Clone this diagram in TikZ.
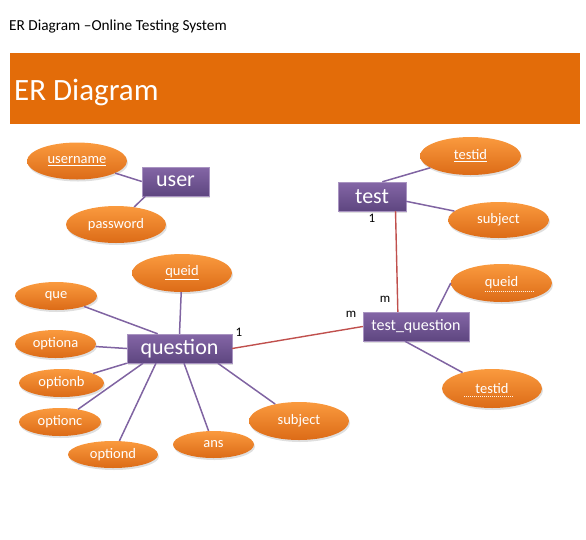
\documentclass[tikz,border=0pt]{standalone}
\usepackage{fontspec}
\setmainfont{Carlito}
\usepackage{tikz}
\usetikzlibrary{shapes.geometric,shadows}
\definecolor{banner}{HTML}{E36C09}
\definecolor{attrtop}{HTML}{FA9A3E}
\definecolor{attrbot}{HTML}{DC6B17}
\definecolor{enttop}{HTML}{8466A6}
\definecolor{entbot}{HTML}{5E4680}
\definecolor{linkcol}{HTML}{8064A2}
\definecolor{relcol}{HTML}{C0504D}

\tikzset{
 attr/.style={ellipse,inner sep=0pt,minimum height=38,top color=attrtop,bottom color=attrbot,
   text=white,font=\fontsize{14.5}{16}\selectfont,
   drop shadow={opacity=0.25,shadow xshift=1pt,shadow yshift=-2pt}},
 ent/.style={rectangle,inner sep=0pt,minimum height=29,top color=enttop,bottom color=entbot,
   draw=enttop!70!white,text=white,font=\fontsize{22}{24}\selectfont,
   drop shadow={opacity=0.25,shadow xshift=1pt,shadow yshift=-2pt}},
 link/.style={linkcol,line width=1.5pt},
 rel/.style={relcol,line width=1.4pt},
 card/.style={font=\fontsize{13}{15}\selectfont},
 keyline/.style={white!85!attrtop,dash pattern=on 1pt off 1pt,line width=0.7pt}
}

\begin{document}
\begin{tikzpicture}[x=1pt,y=-1pt]
 \useasboundingbox (0,0) rectangle (586,539);
 % heading
 \node[anchor=base west,font=\fontsize{15.3}{18}\selectfont,inner sep=0pt] (head) at (9,30) {ER Diagram –Online Testing System};
 \fill[banner] (10,53) rectangle (580,124);
 \node[anchor=base west,text=white,font=\fontsize{31}{34}\selectfont,inner sep=0pt] (title) at (14,100) {ER Diagram};

 % entities
 \node[ent,minimum width=67] (user) at (175.5,181.5) {user};
 \node[ent,minimum width=68] (test) at (372,196.5) {test};
 \node[ent,minimum width=105] (question) at (179.5,348.5) {question};
 \node[ent,minimum width=106,font=\fontsize{16}{18}\selectfont] (tq) at (416,326.5) {test\_question};

 % attributes of user
 \node[attr,minimum width=100,minimum height=37] (username) at (77,161) {\underline{username}};
 \node[attr,minimum width=100,minimum height=37] (password) at (116,224.5) {password};
 % attributes of test
 \node[attr,minimum width=101] (testid) at (470.5,156) {\underline{testid}};
 \node[attr,minimum width=101,minimum height=36] (tsubject) at (498.5,220) {subject};
 % attributes of test_question
 \node[attr,minimum width=101] (tqqueid) at (501.5,283) {queid};
 \node[attr,minimum width=100,minimum height=39] (tqtestid) at (492,388.5) {testid};
 % attributes of question
 \node[attr,minimum width=100] (queid) at (182,273) {\underline{queid}};
 \node[attr,minimum width=82,minimum height=28] (que) at (56,296) {que};
 \node[attr,minimum width=81,minimum height=28] (optiona) at (55.5,344) {optiona};
 \node[attr,minimum width=85,minimum height=28] (optionb) at (61.5,383) {optionb};
 \node[attr,minimum width=82,minimum height=28] (optionc) at (60,422) {optionc};
 \node[attr,minimum width=90,minimum height=27] (optiond) at (113,454.5) {optiond};
 \node[attr,minimum width=81,minimum height=27] (ans) at (213.5,444.5) {ans};
 \node[attr,minimum width=100] (qsubject) at (299,421) {subject};

 % partial key underlines
 \draw[keyline] ([shift={(-17,8)}]tqqueid.center) -- ++(49,0);
 \draw[keyline] ([shift={(-28,8)}]tqtestid.center) -- ++(49,0);

 % attribute links
 \draw[link] (username) -- (user.west);
 \draw[link] (password) -- (user.206);
 \draw[link] (testid) -- (test.55);
 \draw[link] (tsubject) -- (test.352);
 \draw[link] (tqqueid.west) -- (tq.36);
 \draw[link] (tqtestid) -- (tq.233);
 \draw[link] (queid) -- (question.north);
 \draw[link] (que) -- (question.146);
 \draw[link] (optiona) -- (question.west);
 \draw[link] (optionb) -- (question.south west);
 \draw[link] (optionc) -- (question.202);
 \draw[link] (optiond) -- (question.212);
 \draw[link] (ans) -- (question.287);
 \draw[link] (qsubject) -- (question.339);

 % relationships
 \draw[rel] (test.328) -- (tq.141);
 \draw[rel] (question.east) -- (tq.west);
 \node[card] (c1) at (372,218) {1};
 \node[card] (c2) at (385,299) {m};
 \node[card] (c3) at (351,314) {m};
 \node[card] (c4) at (239,332) {1};
\end{tikzpicture}
\end{document}
